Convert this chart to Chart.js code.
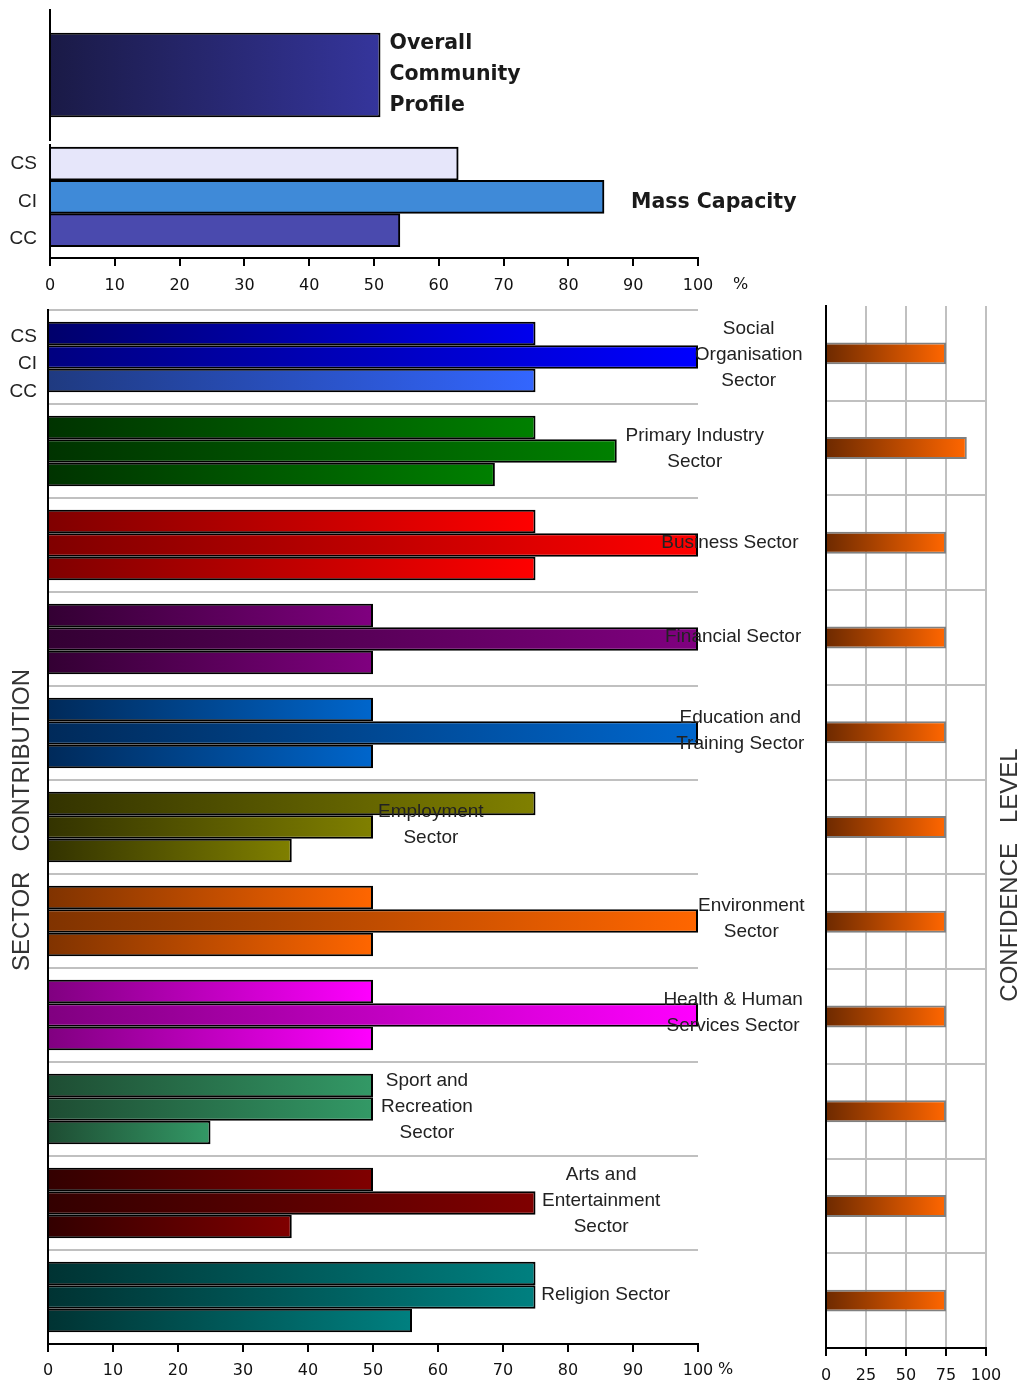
<!DOCTYPE html>
<html>
<head>
<meta charset="utf-8">
<script src="https://cdn.jsdelivr.net/npm/chart.js@4.4.1/dist/chart.umd.min.js"></script>
<style>
  html, body { margin: 0; padding: 0; background: #fff; }
  #wrap { position: relative; width: 1022px; height: 1387px; overflow: hidden; }
  canvas { position: absolute; }
</style>
</head>
<body>
<div id="wrap">
  <canvas id="overall" width="1022" height="145" style="left:0;top:0"></canvas>
  <canvas id="mass" width="1022" height="165" style="left:0;top:140px"></canvas>
  <canvas id="sectors" width="820" height="1087" style="left:0;top:300px"></canvas>
  <canvas id="confidence" width="222" height="1087" style="left:800px;top:300px"></canvas>
</div>
<script>
// values (percent)
const overallLabels = [['Overall', 'Community', 'Profile']];
const overallValues = [51];

const massLabels = ['CS', 'CI', 'CC'];
const massValues = [63, 85.5, 54];

const seriesNames = ['CS', 'CI', 'CC'];
const sectorLabels = [
  ['Social', 'Organisation', 'Sector'],
  ['Primary Industry', 'Sector'],
  ['Business Sector'],
  ['Financial Sector'],
  ['Education and', 'Training Sector'],
  ['Employment', 'Sector'],
  ['Environment', 'Sector'],
  ['Health & Human', 'Services Sector'],
  ['Sport and', 'Recreation', 'Sector'],
  ['Arts and', 'Entertainment', 'Sector'],
  ['Religion Sector']
];
const csValues = [75, 75, 75, 50, 50, 75, 50, 50, 50, 50, 75];
const ciValues = [100, 87.5, 100, 100, 100, 50, 100, 100, 50, 75, 75];
const ccValues = [75, 68.75, 75, 50, 50, 37.5, 50, 50, 25, 37.5, 56];
const confidenceValues = [75, 88, 75, 75, 75, 75, 75, 75, 75, 75, 75];

const percentTicks = [0, 10, 20, 30, 40, 50, 60, 70, 80, 90, 100];
const confidenceTicks = [0, 25, 50, 75, 100];

// where the sector names sit, in axis units
const sectorLabelAt = [107.8, 99.5, 104.9, 105.4, 106.5, 58.9, 108.2, 105.4, 58.3, 85.1, 85.8];

const SANS = '"Liberation Sans", Arial, sans-serif';
const VERD = '"DejaVu Sans", Verdana, sans-serif';
const INK = '#222';

const overallShade = ['#1a1a46', '#35359c'];
const massFill = ['#e6e6fa', '#3f8ad8', '#4a4aae'];
const confidenceShade = ['#6e2a00', '#ff6600'];
const sectorShades = [
  [['#00006b', '#0000ee'], ['#000080', '#0000ff'], ['#1f3a80', '#3366ff']],
  ['#003300', '#008000'],
  ['#800000', '#ff0000'],
  ['#330033', '#800080'],
  ['#002a5a', '#0066cc'],
  ['#333300', '#808000'],
  ['#803300', '#ff6600'],
  ['#800080', '#ff00ff'],
  ['#1e4d33', '#339966'],
  ['#330000', '#800000'],
  ['#003333', '#008080']
];

function sectorShade(i, s) {
  const e = sectorShades[i];
  return Array.isArray(e[0]) ? e[s] : e;
}

// horizontal gradient running from the axis to the end of each bar
function fade(pick) {
  return (c) => {
    if (c.type !== 'data') return '#888';
    const pair = pick(c);
    const chart = c.chart, xs = chart.scales.x;
    if (!chart.chartArea || !xs) return pair[1];
    const v = typeof c.raw === 'object' ? c.raw.x : c.raw;
    const x0 = xs.getPixelForValue(0);
    const x1 = Math.max(xs.getPixelForValue(v), x0 + 1);
    const g = chart.ctx.createLinearGradient(x0, 0, x1, 0);
    g.addColorStop(0, pair[0]);
    g.addColorStop(1, pair[1]);
    return g;
  };
}

function base(extra) {
  return Object.assign({
    indexAxis: 'y',
    responsive: false,
    animation: false,
    devicePixelRatio: 1,
    events: [],
    plugins: { legend: { display: false }, tooltip: { enabled: false } }
  }, extra);
}

function pctAxis(list, height, pad, gridColor) {
  return {
    type: 'linear', min: 0, max: 100,
    afterBuildTicks: s => { s.ticks = list.map(v => ({ value: v })); },
    ticks: { font: { family: VERD, size: 16 }, color: '#111', padding: pad, maxRotation: 0, autoSkip: false },
    grid: gridColor
      ? { color: gridColor, lineWidth: 2, tickColor: '#000', tickLength: 8 }
      : { drawOnChartArea: false, color: '#000', lineWidth: 2, tickLength: 8 },
    border: { color: '#000', width: 2, z: 1 },
    afterFit: s => { s.height = height; }
  };
}

// --- overall community profile
new Chart(document.getElementById('overall'), {
  type: 'bar',
  data: {
    labels: overallLabels,
    datasets: [{
      data: overallValues,
      backgroundColor: fade(() => overallShade),
      borderColor: '#000', borderWidth: 2,
      barPercentage: 1, categoryPercentage: 0.65
    }]
  },
  options: base({
    layout: { autoPadding: false, padding: { left: 0, right: 324, top: 10, bottom: 5 } },
    scales: {
      x: { display: false, min: 0, max: 100 },
      y: {
        grid: { display: false, drawTicks: false },
        ticks: { display: false },
        border: { color: '#000', width: 2, z: 1 },
        afterFit: s => { s.width = 50; }
      }
    }
  }),
  plugins: [{
    id: 'overallText',
    afterDatasetsDraw(chart) {
      const ctx = chart.ctx;
      const bar = chart.getDatasetMeta(0).data[0];
      const lines = overallLabels[0];
      ctx.save();
      ctx.font = 'bold 20.5px ' + VERD;
      ctx.fillStyle = '#1a1a1a';
      ctx.textAlign = 'left';
      ctx.textBaseline = 'middle';
      lines.forEach((t, i) => ctx.fillText(t, bar.x + 9, bar.y + (i - (lines.length - 1) / 2) * 31));
      ctx.restore();
    }
  }]
});

// --- mass capacity
new Chart(document.getElementById('mass'), {
  type: 'bar',
  data: {
    datasets: [{
      data: massValues.map((v, i) => ({ x: v, y: i })),
      backgroundColor: massFill,
      borderColor: '#000', borderWidth: 2,
      barThickness: 33
    }]
  },
  options: base({
    layout: { autoPadding: false, padding: { left: 0, right: 324, top: 5, bottom: 0 } },
    scales: {
      x: pctAxis(percentTicks, 47, 10),
      y: {
        type: 'linear', reverse: true, min: -0.56, max: 2.84, offset: false,
        ticks: { display: false },
        grid: { display: false, drawTicks: false, offset: false },
        border: { color: '#000', width: 2, z: 1 },
        afterFit: s => { s.width = 50; }
      }
    }
  }),
  plugins: [{
    id: 'massText',
    afterDatasetsDraw(chart) {
      const ctx = chart.ctx, xs = chart.scales.x;
      const bars = chart.getDatasetMeta(0).data;
      ctx.save();
      ctx.textBaseline = 'middle';
      ctx.textAlign = 'right';
      ctx.font = '19px ' + SANS;
      ctx.fillStyle = INK;
      massLabels.forEach((n, i) => ctx.fillText(n, 37, bars[i].y + i * 4.5));
      ctx.textAlign = 'left';
      ctx.font = 'bold 20.5px ' + VERD;
      ctx.fillStyle = '#1a1a1a';
      ctx.fillText('Mass Capacity', chart.chartArea.right - 67, bars[1].y + 6);
      ctx.font = '16px ' + VERD;
      ctx.fillStyle = '#111';
      ctx.fillText('%', xs.getPixelForValue(100) + 35, xs.top + 27);
      ctx.restore();
    }
  }]
});

// --- sector contribution
const seriesValues = [csValues, ciValues, ccValues];
new Chart(document.getElementById('sectors'), {
  type: 'bar',
  data: {
    labels: sectorLabels,
    datasets: seriesValues.map((vals, si) => ({
      label: seriesNames[si],
      data: vals,
      backgroundColor: fade(c => sectorShade(c.dataIndex, si)),
      borderColor: '#000', borderWidth: 2,
      barPercentage: 1, categoryPercentage: 0.75
    }))
  },
  options: base({
    layout: { autoPadding: false, padding: { left: 0, right: 122, top: 10, bottom: 0 } },
    scales: {
      x: pctAxis(percentTicks, 43, 9),
      y: {
        grid: { color: '#c0c0c0', lineWidth: 2, drawTicks: false, offset: true },
        ticks: { display: false },
        border: { color: '#000', width: 2, z: 1 },
        afterFit: s => { s.width = 48; }
      }
    }
  }),
  plugins: [{
    id: 'sectorText',
    afterDatasetsDraw(chart) {
      const ctx = chart.ctx, xs = chart.scales.x, ys = chart.scales.y;
      ctx.save();
      ctx.font = '19px ' + SANS;
      ctx.fillStyle = INK;
      ctx.textBaseline = 'middle';
      ctx.textAlign = 'center';
      sectorLabels.forEach((lines, i) => {
        const cx = xs.getPixelForValue(sectorLabelAt[i]);
        const cy = ys.getPixelForValue(i) - 2;
        lines.forEach((t, j) => ctx.fillText(t, cx, cy + (j - (lines.length - 1) / 2) * 26));
      });
      ctx.textAlign = 'right';
      seriesNames.forEach((n, d) => {
        const bar = chart.getDatasetMeta(d).data[0];
        ctx.fillText(n, 37, bar.y + 3 + d * 4);
      });
      ctx.textAlign = 'left';
      ctx.font = '16px ' + VERD;
      ctx.fillStyle = '#111';
      ctx.fillText('%', xs.getPixelForValue(100) + 20, xs.top + 26);
      ctx.translate(22, 520);
      ctx.rotate(-Math.PI / 2);
      ctx.textAlign = 'center';
      ctx.font = '24px ' + SANS;
      ctx.fillStyle = '#333';
      ctx.fillText('SECTOR   CONTRIBUTION', 0, 0);
      ctx.restore();
    }
  }]
});

// --- confidence level
new Chart(document.getElementById('confidence'), {
  type: 'bar',
  data: {
    labels: sectorLabels,
    datasets: [{
      data: confidenceValues,
      backgroundColor: fade(() => confidenceShade),
      borderColor: '#808080', borderWidth: 2,
      barPercentage: 1, categoryPercentage: 0.232
    }]
  },
  options: base({
    layout: { autoPadding: false, padding: { left: 0, right: 36, top: 6, bottom: 0 } },
    scales: {
      x: pctAxis(confidenceTicks, 39, 10, '#c0c0c0'),
      y: {
        grid: { color: c => c.index === 0 ? 'rgba(0,0,0,0)' : '#c0c0c0', lineWidth: 2, drawTicks: false, offset: true },
        ticks: { display: false },
        border: { color: '#000', width: 2, z: 1 },
        afterFit: s => { s.width = 26; }
      }
    }
  }),
  plugins: [{
    id: 'confidenceText',
    afterDatasetsDraw(chart) {
      const ctx = chart.ctx;
      ctx.save();
      ctx.translate(210, 575);
      ctx.rotate(-Math.PI / 2);
      ctx.font = '24px ' + SANS;
      ctx.fillStyle = '#333';
      ctx.textAlign = 'center';
      ctx.textBaseline = 'middle';
      ctx.fillText('CONFIDENCE   LEVEL', 0, 0);
      ctx.restore();
    }
  }]
});
</script>
</body>
</html>
